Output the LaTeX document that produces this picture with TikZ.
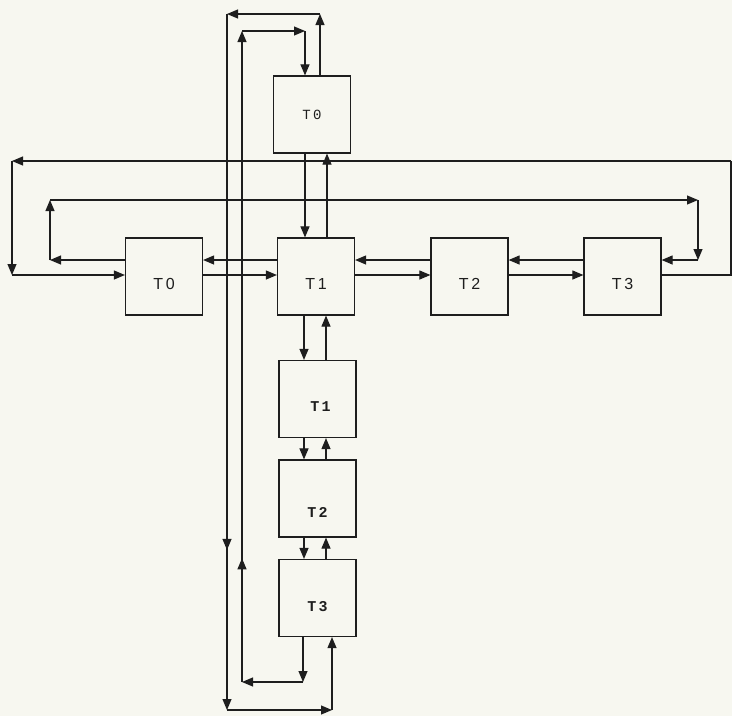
\documentclass[tikz,border=0pt]{standalone}
\usepackage{fontspec}
\setmainfont{Liberation Sans}
\newfontfamily\monof{Liberation Mono}
\usetikzlibrary{arrows.meta,decorations.markings}
\definecolor{bg}{RGB}{247,247,240}
\definecolor{ink}{RGB}{30,30,30}
\tikzset{
  box/.style={draw=ink, line width=1.2pt, minimum width=77pt, minimum height=77pt, inner sep=0pt, text=ink},
  ln/.style={draw=ink, line width=1.1pt},
  tip/.style={-{Triangle[length=11pt,width=9pt]}},
  midarr/.style={postaction={decorate},decoration={markings,mark=at position #1 with {\arrow{Triangle[length=11pt,width=9pt]}}}},
  rowlab/.style={font=\fontsize{16}{16}\selectfont, text=ink},
  collab/.style={font=\monof\bfseries\fontsize{15}{15}\selectfont, text=ink},
}
\begin{document}
\begin{tikzpicture}[x=1pt,y=-1pt]
\fill[bg] (0,0) rectangle (732,716);
\useasboundingbox (0,0) rectangle (732,716);
% boxes
\node[box,label={[collab,font=\monof\fontsize{14}{14}\selectfont]center:T\,0}] (A)  at (312,114.5) {};
\node[box,label={[rowlab,yshift=-7pt]center:T\,0}] (B0) at (164,276.5) {};
\node[box,label={[rowlab,yshift=-7pt]center:T\,1}] (B1) at (316,276.5) {};
\node[box,label={[rowlab,yshift=-7pt]center:T\,2}] (B2) at (469.5,276.5) {};
\node[box,label={[rowlab,yshift=-7pt]center:T\,3}] (B3) at (622.5,276.5) {};
\node[box,label={[collab,yshift=-8pt,xshift=3pt]center:T\,1}] (C1) at (317.5,399) {};
\node[box,label={[collab,yshift=-14pt]center:T\,2}] (C2) at (317.5,498.5) {};
\node[box,label={[collab,yshift=-9pt]center:T\,3}] (C3) at (317.5,598) {};
% row links
\draw[ln,tip] (B1.west |- 0,260) -- (B0.east |- 0,260);
\draw[ln,tip] (B0.east |- 0,275) -- (B1.west |- 0,275);
\draw[ln,tip] (B2.west |- 0,260) -- (B1.east |- 0,260);
\draw[ln,tip] (B1.east |- 0,275) -- (B2.west |- 0,275);
\draw[ln,tip] (B3.west |- 0,260) -- (B2.east |- 0,260);
\draw[ln,tip] (B2.east |- 0,275) -- (B3.west |- 0,275);
% column links
\draw[ln,tip] (305,0 |- A.south) -- (305,0 |- B1.north);
\draw[ln,tip] (327,0 |- B1.north) -- (327,0 |- A.south);
\draw[ln,tip] (304,0 |- B1.south) -- (304,0 |- C1.north);
\draw[ln,tip] (326,0 |- C1.north) -- (326,0 |- B1.south);
\draw[ln,tip] (304,0 |- C1.south) -- (304,0 |- C2.north);
\draw[ln,tip] (326,0 |- C2.north) -- (326,0 |- C1.south);
\draw[ln,tip] (304,0 |- C2.south) -- (304,0 |- C3.north);
\draw[ln,tip] (326,0 |- C3.north) -- (326,0 |- C2.south);
% inner vertical loop
\coordinate (i1) at (303,682);
\coordinate (i2) at (242,682);
\coordinate (i3) at (242,31);
\coordinate (i4) at (305,31);
\draw[ln,tip] (303,0 |- C3.south) -- (i1);
\draw[ln,tip] (i1) -- (i2);
\draw[ln,tip,midarr=0.19] (i2) -- (i3);
\draw[ln,tip] (i3) -- (i4);
\draw[ln,tip] (i4) -- (305,0 |- A.north);
% outer vertical loop
\coordinate (o1) at (320,14);
\coordinate (o2) at (227,14);
\coordinate (o3) at (227,710);
\coordinate (o4) at (332,710);
\draw[ln,tip] (320,0 |- A.north) -- (o1);
\draw[ln,tip] (o1) -- (o2);
\draw[ln,tip,midarr=0.77] (o2) -- (o3);
\draw[ln,tip] (o3) -- (o4);
\draw[ln,tip] (o4) -- (332,0 |- C3.south);
% outer row loop
\coordinate (r1) at (731,275);
\coordinate (r2) at (731,161);
\coordinate (r3) at (12,161);
\coordinate (r4) at (12,275);
\draw[ln] (B3.east |- 0,275) -- (r1) -- (r2);
\draw[ln,tip] (r2) -- (r3);
\draw[ln,tip] (r3) -- (r4);
\draw[ln,tip] (r4) -- (B0.west |- 0,275);
% inner row loop
\coordinate (s1) at (50,260);
\coordinate (s2) at (50,200);
\coordinate (s3) at (698,200);
\coordinate (s4) at (698,260);
\draw[ln,tip] (B0.west |- 0,260) -- (s1);
\draw[ln,tip] (s1) -- (s2);
\draw[ln,tip] (s2) -- (s3);
\draw[ln,tip] (s3) -- (s4);
\draw[ln,tip] (s4) -- (B3.east |- 0,260);
\end{tikzpicture}
\end{document}
